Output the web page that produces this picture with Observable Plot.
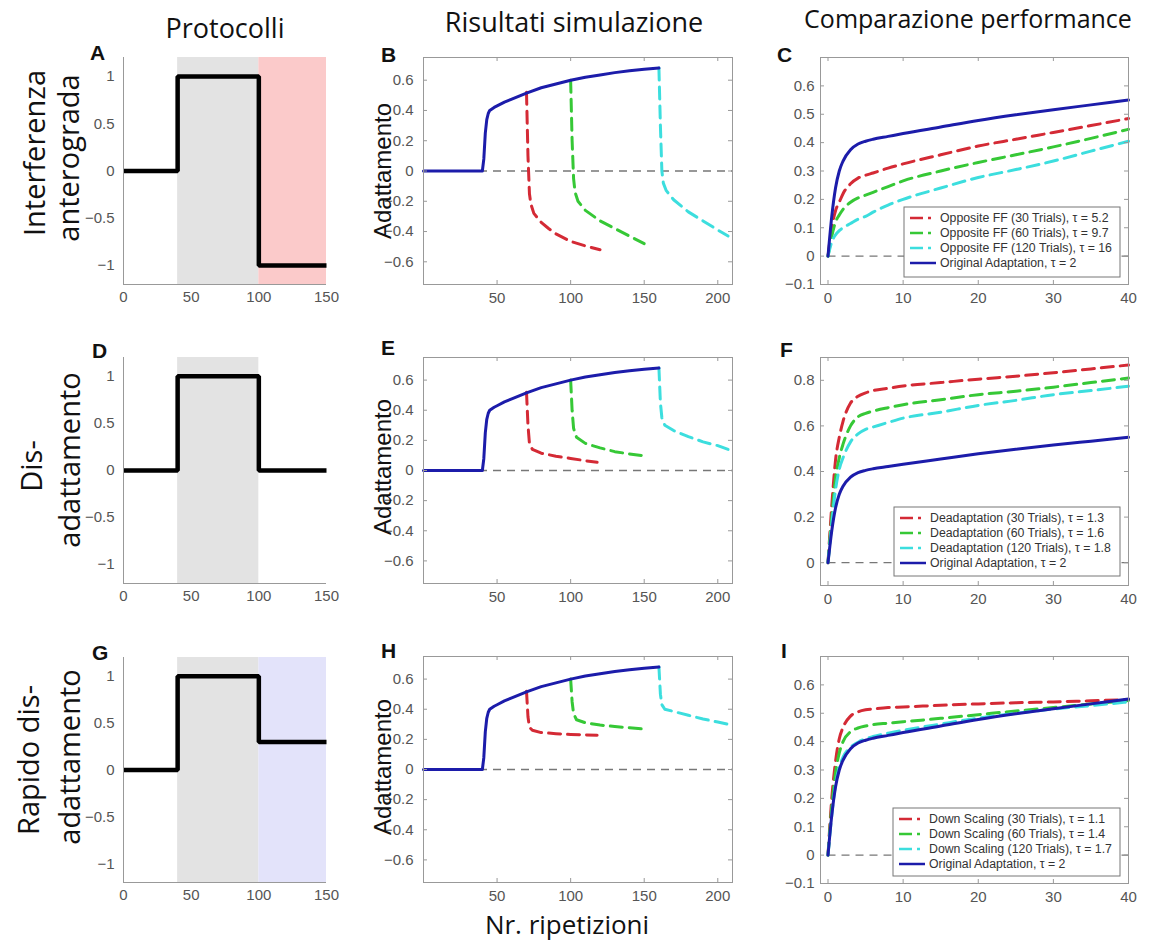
<!DOCTYPE html>
<html><head><meta charset="utf-8">
<script src="https://cdn.jsdelivr.net/npm/d3@7"></script>
<script src="https://cdn.jsdelivr.net/npm/@observablehq/plot@0.6"></script>
<style>
html,body{margin:0;padding:0;background:#fff;}
#root{position:relative;width:1157px;height:945px;overflow:hidden;background:#fff;}
#overlay{position:absolute;left:0;top:0;pointer-events:none;}
</style></head><body><div id="root"></div>
<script>
// ---------------- DATA ----------------
// Protocols (left column)
const protoX = [0, 40, 100, 150];
const protoA = [0, 1, -1, -1];
const protoD = [0, 1, 0, 0];
const protoG = [0, 1, 0.3, 0.3];
const shadeTraining = [40, 100];
const shadeAfter = [100, 150];
const protoXTicks = [0, 50, 100, 150];
const protoYTicks = [-1, -0.5, 0, 0.5, 1];

// Simulation results (middle column)
const adaptX = [0, 40, 41, 42, 43, 44, 45, 48, 50, 55, 60, 70, 80, 90, 100, 110, 120, 130, 140, 150, 160];
const adaptY = [0, 0, 0.08, 0.25, 0.34, 0.38, 0.40, 0.42, 0.43, 0.455, 0.475, 0.515, 0.55, 0.575, 0.6, 0.62, 0.635, 0.65, 0.662, 0.672, 0.68];

const bRed   = [[70,0.52],[71,0.1],[72,-0.15],[73,-0.22],[75,-0.28],[80,-0.34],[85,-0.38],[90,-0.415],[100,-0.465],[110,-0.495],[120,-0.52]];
const bGreen = [[100,0.6],[101,0.2],[102,-0.05],[103,-0.14],[105,-0.2],[110,-0.26],[120,-0.33],[130,-0.38],[140,-0.43],[150,-0.48]];
const bCyan  = [[160,0.68],[161,0.3],[162,0.0],[163,-0.08],[165,-0.13],[170,-0.19],[180,-0.27],[190,-0.33],[200,-0.39],[207,-0.43]];

const eRed   = [[70,0.52],[71,0.3],[72,0.18],[74,0.14],[80,0.115],[90,0.095],[100,0.08],[110,0.065],[118,0.055]];
const eGreen = [[100,0.6],[101,0.4],[102,0.28],[104,0.22],[110,0.18],[120,0.15],[130,0.125],[140,0.11],[148,0.1]];
const eCyan  = [[160,0.68],[161,0.45],[162,0.35],[164,0.3],[170,0.265],[180,0.225],[190,0.19],[200,0.165],[207,0.14]];

const hRed   = [[70,0.52],[71,0.35],[72,0.28],[74,0.26],[80,0.245],[90,0.238],[100,0.233],[110,0.23],[118,0.228]];
const hGreen = [[100,0.6],[101,0.45],[102,0.37],[104,0.33],[110,0.31],[120,0.295],[130,0.285],[140,0.277],[148,0.27]];
const hCyan  = [[160,0.68],[161,0.5],[162,0.43],[164,0.4],[170,0.385],[180,0.36],[190,0.335],[200,0.315],[207,0.3]];

const simXTicks = [50, 100, 150, 200];
const simYTicks = [-0.6, -0.4, -0.2, 0, 0.2, 0.4, 0.6];

// Performance comparison (right column)
const perfX = [0, 0.5, 1, 1.5, 2, 3, 4, 5, 6, 8, 10, 15, 20, 25, 30, 35, 40];
const origY  = [0, 0.14, 0.24, 0.30, 0.335, 0.375, 0.395, 0.405, 0.412, 0.422, 0.432, 0.455, 0.478, 0.498, 0.516, 0.533, 0.55];
const cRed   = [0, 0.1, 0.16, 0.19, 0.22, 0.255, 0.275, 0.285, 0.293, 0.31, 0.325, 0.357, 0.388, 0.412, 0.436, 0.46, 0.485];
const cGreen = [0, 0.07, 0.12, 0.145, 0.165, 0.19, 0.205, 0.215, 0.225, 0.245, 0.265, 0.3, 0.33, 0.357, 0.385, 0.415, 0.447];
const cCyan  = [0, 0.05, 0.075, 0.09, 0.1, 0.115, 0.13, 0.14, 0.155, 0.18, 0.2, 0.24, 0.277, 0.305, 0.335, 0.37, 0.405];
const fRed   = [0, 0.25, 0.45, 0.55, 0.62, 0.7, 0.73, 0.745, 0.755, 0.765, 0.775, 0.79, 0.805, 0.818, 0.833, 0.85, 0.867];
const fGreen = [0, 0.2, 0.37, 0.46, 0.52, 0.6, 0.64, 0.655, 0.665, 0.68, 0.693, 0.715, 0.737, 0.752, 0.77, 0.79, 0.81];
const fCyan  = [0, 0.17, 0.32, 0.41, 0.46, 0.53, 0.565, 0.585, 0.595, 0.615, 0.634, 0.66, 0.69, 0.712, 0.737, 0.755, 0.774];
const iRed   = [0, 0.2, 0.33, 0.41, 0.45, 0.49, 0.505, 0.512, 0.515, 0.52, 0.522, 0.528, 0.533, 0.537, 0.54, 0.544, 0.548];
const iGreen = [0, 0.17, 0.29, 0.36, 0.4, 0.435, 0.448, 0.455, 0.46, 0.465, 0.47, 0.482, 0.495, 0.508, 0.52, 0.533, 0.545];
const iCyan  = [0, 0.14, 0.25, 0.31, 0.345, 0.38, 0.398, 0.41, 0.418, 0.43, 0.44, 0.462, 0.483, 0.5, 0.515, 0.527, 0.54];
const perfXTicks = [0, 10, 20, 30, 40];
const perfYTicksCI = [-0.1, 0, 0.1, 0.2, 0.3, 0.4, 0.5, 0.6];
const perfYTicksF = [0, 0.2, 0.4, 0.6, 0.8];

const legendC = ["Opposite FF (30 Trials), \u03c4 = 5.2", "Opposite FF (60 Trials), \u03c4 = 9.7", "Opposite FF (120 Trials), \u03c4 = 16", "Original Adaptation, \u03c4 = 2"];
const legendF = ["Deadaptation (30 Trials), \u03c4 = 1.3", "Deadaptation (60 Trials), \u03c4 = 1.6", "Deadaptation (120 Trials), \u03c4 = 1.8", "Original Adaptation, \u03c4 = 2"];
const legendI = ["Down Scaling (30 Trials), \u03c4 = 1.1", "Down Scaling (60 Trials), \u03c4 = 1.4", "Down Scaling (120 Trials), \u03c4 = 1.7", "Original Adaptation, \u03c4 = 2"];

const colTitles = ["Protocolli", "Risultati simulazione", "Comparazione performance"];
const rowLabels = [["Interferenza", "anterograda"], ["Dis-", "adattamento"], ["Rapido dis-", "adattamento"]];
const panelLetters = ["A","B","C","D","E","F","G","H","I"];
const yLabelSim = "Adattamento";
const xLabelSim = "Nr. ripetizioni";

// ---------------- STYLE ----------------
const RED = "#d42a35", GREEN = "#36c836", CYAN = "#3cdede", BLUE = "#1c1caa";
const DASH = "12,7";
const root = document.getElementById("root");
const pairs = (xs, ys) => xs.map((x, i) => [x, ys[i]]);
const X = d => d[0], Y = d => d[1];
const fmt = d => (d < 0 ? "\u2212" : "") + String(+Math.abs(d).toFixed(2));

function makePanel(o) {
  const [l, t, r, b] = o.frame;
  const ML = 55, MT = 12, MR = 12, MB = 36;
  const [x0, x1] = o.xDomain, [y0, y1] = o.yDomain;
  const fw = r - l, fh = b - t;
  const marks = [...o.marks];
  if (o.box) {
    const dy = (y1 - y0) * 4 / fh, dx = (x1 - x0) * 4 / fw;
    marks.push(
      Plot.ruleX(o.xTicks, {x: d => d, y1: y0, y2: y0 + dy, stroke: "#999"}),
      Plot.ruleX(o.xTicks, {x: d => d, y1: y1 - dy, y2: y1, stroke: "#999"}),
      Plot.ruleY(o.yTicks, {y: d => d, x1: x0, x2: x0 + dx, stroke: "#999"}),
      Plot.ruleY(o.yTicks, {y: d => d, x1: x1 - dx, x2: x1, stroke: "#999"}),
      Plot.frame({stroke: "#999"})
    );
  } else {
    marks.push(Plot.ruleX([x0], {stroke: "#999"}), Plot.ruleY([y0], {stroke: "#999"}));
  }
  marks.push(
    Plot.axisX({ticks: o.xTicks, tickFormat: fmt, tickSize: 0, tickPadding: o.padX, label: null}),
    Plot.axisY({ticks: o.yTicks, tickFormat: fmt, tickSize: 0, tickPadding: o.padY, label: null})
  );
  const svg = Plot.plot({
    width: fw + ML + MR, height: fh + MT + MB,
    marginLeft: ML, marginTop: MT, marginRight: MR, marginBottom: MB,
    x: {domain: o.xDomain}, y: {domain: o.yDomain},
    style: {fontFamily: "'Liberation Sans', Arial, sans-serif", fontSize: "15px", color: "#555", background: "transparent", overflow: "visible"},
    marks
  });
  svg.style.position = "absolute";
  svg.style.left = (l - ML) + "px";
  svg.style.top = (t - MT) + "px";
  root.appendChild(svg);
}

// ---- Left column: protocols ----
function protoPanel(frame, ys, afterFill) {
  const marks = [
    Plot.rect([shadeTraining], {x1: d => d[0], x2: d => d[1], y1: -1.2, y2: 1.2, fill: "#e3e3e3"})
  ];
  if (afterFill) marks.push(Plot.rect([shadeAfter], {x1: d => d[0], x2: d => d[1], y1: -1.2, y2: 1.2, fill: afterFill}));
  marks.push(Plot.line(pairs(protoX, ys), {x: X, y: Y, curve: "step-after", stroke: "#000", strokeWidth: 4.5, strokeLinecap: "butt", strokeLinejoin: "miter"}));
  makePanel({frame, xDomain: [0, 150], yDomain: [-1.2, 1.2], xTicks: protoXTicks, yTicks: protoYTicks, padX: 7, padY: 9, box: false, marks});
}
protoPanel([123, 57, 326, 284], protoA, "#fbcaca");
protoPanel([123, 357, 326, 583], protoD, null);
protoPanel([123, 657, 326, 882], protoG, "#e3e3fa");

// ---- Middle column: simulations ----
function simPanel(frame, red, green, cyan) {
  const dashed = (data, c) => Plot.line(data, {x: X, y: Y, stroke: c, strokeWidth: 3, strokeDasharray: DASH});
  const marks = [
    Plot.ruleY([0], {stroke: "#777", strokeWidth: 1.3, strokeDasharray: "8,6"}),
    dashed(red, RED), dashed(green, GREEN), dashed(cyan, CYAN),
    Plot.line(pairs(adaptX, adaptY), {x: X, y: Y, stroke: BLUE, strokeWidth: 3})
  ];
  makePanel({frame, xDomain: [0, 210], yDomain: [-0.75, 0.75], xTicks: simXTicks, yTicks: simYTicks, padX: 8, padY: 10, box: true, marks});
}
simPanel([423, 57, 732, 284], bRed, bGreen, bCyan);
simPanel([423, 357, 732, 583], eRed, eGreen, eCyan);
simPanel([423, 656, 732, 882], hRed, hGreen, hCyan);

// ---- Right column: performance ----
function perfPanel(frame, yDomain, yTicks, red, green, cyan) {
  const dashed = (ys, c) => Plot.line(pairs(perfX, ys), {x: X, y: Y, stroke: c, strokeWidth: 3, strokeDasharray: DASH, curve: "monotone-x"});
  const marks = [
    Plot.ruleY([0], {x1: 0, x2: 40, stroke: "#777", strokeWidth: 1.3, strokeDasharray: "8,6"}),
    dashed(red, RED), dashed(green, GREEN), dashed(cyan, CYAN),
    Plot.line(pairs(perfX, origY), {x: X, y: Y, stroke: BLUE, strokeWidth: 3, curve: "monotone-x"})
  ];
  makePanel({frame, xDomain: [-1, 40], yDomain, xTicks: perfXTicks, yTicks, padX: 8, padY: 6, box: true, marks});
}
perfPanel([820, 57, 1128, 284], [-0.1, 0.7], perfYTicksCI, cRed, cGreen, cCyan);
perfPanel([820, 357, 1128, 585], [-0.1, 0.9], perfYTicksF, fRed, fGreen, fCyan);
perfPanel([820, 656, 1128, 883], [-0.1, 0.7], perfYTicksCI, iRed, iGreen, iCyan);

// ---------------- OVERLAY TEXT + LEGENDS ----------------
const ov = d3.select(root).append("svg").attr("id", "overlay").attr("width", 1157).attr("height", 945);
const TITLE_FONT = "'Open Sans', 'Noto Sans', sans-serif";
const AX_FONT = "'Liberation Sans', Arial, sans-serif";

// column titles
[[225, 38, 27], [574, 32, 27], [968, 28, 25]].forEach(([x, y, fs], i) => {
  ov.append("text").attr("x", x).attr("y", y).attr("text-anchor", "middle")
    .style("font-family", TITLE_FONT).style("font-size", fs + "px").attr("fill", "#111").text(colTitles[i]);
});
// row labels (rotated)
const rowCenters = [[[33, 153], [67, 158]], [[30, 466], [68, 460]], [[27, 760], [68, 757]]];
rowLabels.forEach((lines, r) => lines.forEach((s, k) => {
  const [x, y] = rowCenters[r][k];
  ov.append("text").attr("transform", `translate(${x},${y}) rotate(-90)`).attr("text-anchor", "middle")
    .attr("dominant-baseline", "central").style("font-family", TITLE_FONT).style("font-size", "29px").attr("fill", "#111").text(s);
}));
// panel letters
const letterPos = [[90, 60], [381, 62], [777, 62], [92, 358], [381, 355], [780, 357], [92, 660], [381, 658], [781, 658]];
panelLetters.forEach((s, i) => {
  ov.append("text").attr("x", letterPos[i][0]).attr("y", letterPos[i][1])
    .style("font-family", AX_FONT).style("font-size", "21px").style("font-weight", "bold").attr("fill", "#111").text(s);
});
// y label for simulation panels
[171, 467, 767].forEach(cy => {
  ov.append("text").attr("transform", `translate(382,${cy}) rotate(-90)`).attr("text-anchor", "middle")
    .attr("dominant-baseline", "central").style("font-family", AX_FONT).style("font-size", "24px").attr("fill", "#111").text(yLabelSim);
});
// x label
ov.append("text").attr("x", 567).attr("y", 934).attr("text-anchor", "middle")
  .style("font-family", TITLE_FONT).style("font-size", "26px").attr("fill", "#111").text(xLabelSim);

// legends
function legend(x, y, w, h, labels) {
  const g = ov.append("g").attr("transform", `translate(${x},${y})`);
  g.append("rect").attr("width", w).attr("height", h).attr("fill", "#fff").attr("stroke", "#777").attr("stroke-width", 1);
  const cols = [RED, GREEN, CYAN, BLUE];
  labels.forEach((s, i) => {
    const cy = 11 + i * 15;
    const ln = g.append("line").attr("x1", 6).attr("x2", 32).attr("y1", cy).attr("y2", cy)
      .attr("stroke", cols[i]).attr("stroke-width", 2.5);
    if (i < 3) ln.attr("stroke-dasharray", "13,5,3,20");
    g.append("text").attr("x", 36).attr("y", cy).attr("dominant-baseline", "central")
      .style("font-family", AX_FONT).style("font-size", "12.3px").attr("fill", "#333").text(s);
  });
}
legend(904, 207, 216, 70, legendC);
legend(894, 507, 226, 69, legendF);
legend(893, 808, 227, 68, legendI);
</script></body></html>
